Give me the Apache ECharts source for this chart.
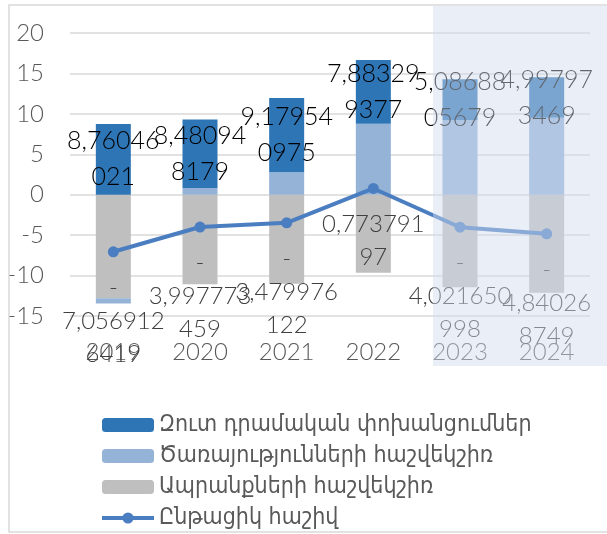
<!DOCTYPE html>
<html>
<head>
<meta charset="utf-8">
<script src="https://cdn.jsdelivr.net/npm/echarts@6/dist/echarts.min.js"></script>
<style>
  html, body { margin: 0; padding: 0; background: #fff; }
  #chart { width: 607px; height: 534px; }
</style>
</head>
<body>
<div id="chart"></div>
<script>
var years = ['2019', '2020', '2021', '2022', '2023', '2024'];
var transfers = [8.76046021, 8.480948179, 9.179540975, 7.883299377, 5.0868805679, 4.997973469];
var services = [-0.65, 0.83, 2.77, 8.78, 9.2, 9.53];
var goods = [-12.8, -11.06, -11.0, -9.65, -11.43, -12.13];
var current = [-7.0569126419, -3.997773459, -3.479976122, 0.77379197, -4.021650998, -4.840268749];

var names = ['Զուտ դրամական փոխանցումներ', 'Ծառայությունների հաշվեկշիռ', 'Ապրանքների հաշվեկշիռ', 'Ընթացիկ հաշիվ'];

var font = "Lato, 'DejaVu Sans', sans-serif";
var legendFont = "'DejaVu Sans Condensed', 'DejaVu Sans', sans-serif";

var myChart = echarts.init(document.getElementById('chart'));

function barLabel(p) {
    var s = String(p.value).replace('.', ',');
    return s.slice(0, 7) + '\n' + s.slice(7);
}

function lineLabel(p) {
    var v = p.value;
    var s = String(Math.abs(v)).replace('.', ',');
    var n = p.dataIndex === years.length - 1 ? 7 : 8;
    var t = s.slice(0, n) + '\n' + s.slice(n);
    return v < 0 ? '-\n' + t : t;
}

var option = {
    animation: false,
    grid: { left: 70, right: 17, top: 33, bottom: 218 },
    legend: {
        orient: 'vertical',
        left: 100,
        top: 413,
        height: 160,
        padding: 0,
        itemWidth: 52,
        itemHeight: 14,
        itemGap: 7,
        data: [
            names[0],
            names[1],
            names[2],
            { name: names[3], lineStyle: { width: 4 } }
        ],
        textStyle: { fontFamily: legendFont, fontWeight: 300, fontSize: 23, lineHeight: 24, color: '#595959' }
    },
    xAxis: {
        type: 'category',
        data: years,
        axisLine: { show: false, onZero: false },
        axisTick: { show: false },
        axisLabel: { margin: 24, fontFamily: font, fontWeight: 300, fontSize: 24, color: '#595959' }
    },
    yAxis: {
        type: 'value',
        min: -15,
        max: 20,
        interval: 5,
        axisLabel: { margin: 26, fontFamily: font, fontWeight: 300, fontSize: 24, color: '#595959' },
        splitLine: { lineStyle: { color: '#D9D9D9', width: 1.5 } }
    },
    series: [
        {
            name: names[2],
            type: 'bar',
            stack: 'bp',
            barWidth: 35,
            itemStyle: { color: '#BFBFBF' },
            data: goods
        },
        {
            name: names[1],
            type: 'bar',
            stack: 'bp',
            barWidth: 35,
            itemStyle: { color: '#95B3D7' },
            data: services
        },
        {
            name: names[0],
            type: 'bar',
            stack: 'bp',
            barWidth: 35,
            itemStyle: { color: '#2E75B6' },
            label: {
                show: true,
                position: 'inside',
                formatter: barLabel,
                fontFamily: font,
                fontWeight: 300,
                fontSize: 25,
                lineHeight: 36,
                color: '#000'
            },
            data: transfers
        },
        {
            name: names[3],
            type: 'line',
            symbol: 'circle',
            symbolSize: 11,
            itemStyle: { color: '#4A7EC0' },
            lineStyle: { color: '#4A7EC0', width: 4 },
            label: {
                show: true,
                position: 'bottom',
                distance: 14,
                formatter: lineLabel,
                fontFamily: font,
                fontWeight: 300,
                fontSize: 24,
                lineHeight: 33,
                color: '#404040'
            },
            data: current
        }
    ],
    graphic: [
        {
            type: 'rect',
            z: 100,
            silent: true,
            shape: { x: 433, y: 6, width: 180, height: 360 },
            style: { fill: 'rgba(208,219,238,0.47)' }
        },
        {
            type: 'rect',
            z: 101,
            silent: true,
            shape: { x: 9, y: 5, width: 610, height: 527 },
            style: { fill: 'none', stroke: '#D9D9D9', lineWidth: 1.5 }
        }
    ]
};

myChart.setOption(option);
window.addEventListener('resize', function () {
    myChart.resize();
});
</script>
</body>
</html>
